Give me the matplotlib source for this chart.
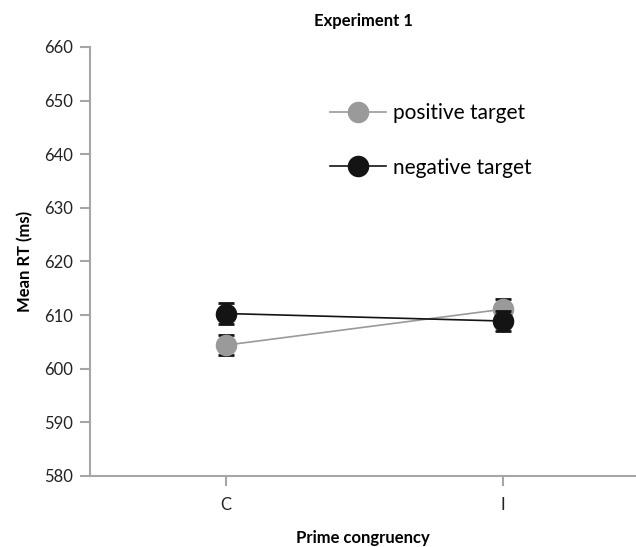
import matplotlib.pyplot as plt
from matplotlib.lines import Line2D

plt.rcParams['font.family'] = ['Lato', 'DejaVu Sans']

# data
categories = ['C', 'I']
positive = [604.4, 611.1]
positive_err = [1.9, 1.9]
negative = [610.3, 608.9]
negative_err = [1.9, 1.9]

grey = '#9a9a9a'
dark = '#141414'
axis_col = '#a6a6a6'

fig = plt.figure(figsize=(6.36, 5.47), dpi=100)
ax = fig.add_axes([90/636, 71/547, 546/636, 429/547])

x = list(range(len(categories)))

ax.errorbar(x, positive, yerr=positive_err, color=grey, lw=1.2, marker='o',
            ms=14.5, mfc=grey, mec=grey, ecolor=dark, elinewidth=1.2,
            capsize=6, capthick=2, zorder=3)
ax.errorbar(x, negative, yerr=negative_err, color=dark, lw=1.2, marker='o',
            ms=14.5, mfc=dark, mec=dark, ecolor=dark, elinewidth=1.2,
            capsize=6, capthick=2, zorder=4)

ax.set_xlim(-0.49, 1.48)
ax.set_ylim(580, 660)
ax.set_yticks(range(580, 661, 10))
ax.set_xticks(x)
ax.set_xticklabels(categories)

for s in ['top', 'right']:
    ax.spines[s].set_visible(False)
for s in ['left', 'bottom']:
    ax.spines[s].set_color(axis_col)
    ax.spines[s].set_linewidth(1.5)
ax.tick_params(axis='both', colors=axis_col, width=1.5, length=7,
               labelcolor='#222222', labelsize=12)
ax.tick_params(axis='x', pad=8)
ax.tick_params(axis='y', pad=5)

ax.set_ylabel('Mean RT (ms)', fontsize=12, fontweight='bold', labelpad=8)
ax.set_xlabel('Prime congruency', fontsize=12, fontweight='bold', labelpad=12)
ax.set_title('Experiment 1', fontsize=12, fontweight='bold', pad=15)

handles = [Line2D([], [], color=grey, lw=1.2, marker='o', ms=14.5, mfc=grey, mec=grey),
           Line2D([], [], color=dark, lw=1.2, marker='o', ms=14.5, mfc=dark, mec=dark)]
ax.legend(handles, ['positive target', 'negative target'], loc='upper left',
          bbox_to_anchor=(0.42, 0.893), frameon=False, fontsize=15,
          handlelength=2.7, handletextpad=0.35, labelspacing=1.65, borderpad=0)

fig.savefig('out.png', dpi=100)
